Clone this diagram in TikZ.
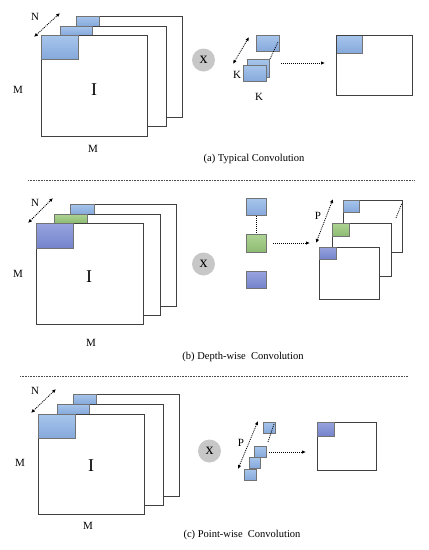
\documentclass[tikz,border=0pt]{standalone}
\usepackage{fontspec}
\setmainfont{Liberation Serif}
\usetikzlibrary{arrows.meta}
\definecolor{lblue}{HTML}{A7C6EC}
\definecolor{lbluedark}{HTML}{86A9DC}
\definecolor{lgreen}{HTML}{AFD494}
\definecolor{lgreendark}{HTML}{8DBB72}
\definecolor{lpurple}{HTML}{98A4DF}
\definecolor{lpurpledark}{HTML}{7483CC}
\tikzset{
    sheet/.style={draw=black!75, fill=white, line width=0.8pt},
    bluepatch/.style={draw=black!55, line width=0.5pt, top color=lblue, bottom color=lbluedark},
    greenpatch/.style={draw=black!55, line width=0.5pt, top color=lgreen, bottom color=lgreendark},
    purplepatch/.style={draw=black!55, line width=0.5pt, top color=lpurple, bottom color=lpurpledark},
    dotline/.style={black, line width=0.8pt, dash pattern=on 1pt off 1pt},
    dotarrow/.style={dotline, -{Latex[length=4pt,width=3.5pt]}},
    dotboth/.style={dotline, {Latex[length=4pt,width=3.5pt]}-{Latex[length=4pt,width=3.5pt]}},
    sep/.style={black!70, line width=0.5pt, dash pattern=on 0.8pt off 0.8pt},
    times/.style={circle, fill=black!22, minimum size=23pt, inner sep=0pt, font=\fontsize{16}{16}\selectfont},
    lab/.style={font=\fontsize{11}{12}\selectfont, inner sep=0pt},
    big/.style={font=\fontsize{18}{18}\selectfont, inner sep=0pt},
    caption/.style={font=\fontsize{10.5}{12}\selectfont, inner sep=0pt}
}
\begin{document}
\begin{tikzpicture}[x=1pt, y=-1pt]
        \useasboundingbox (0,0) rectangle (429,550);

        % (a) input stack
        \draw[sheet] (76,16) rectangle (182,117);
        \draw[bluepatch] (76,16) rectangle (99,26);
        \draw[sheet] (60,26) rectangle (166,126);
        \draw[bluepatch] (60,26) rectangle (92,35);
        \draw[sheet] (41,35) rectangle (147,136);
        \draw[bluepatch] (41,35) rectangle (78,59);
        \draw[dotboth] (34,37) -- (60,13);
        \node[lab] (Na) at (35,17) {N};
        \node[lab] (Ma1) at (18,90) {M};
        \node[lab] (Ma2) at (93,149) {M};
        \node[big] (Ia) at (94,90) {I};
        \node[times] (xa) at (203.5,60) {x};

        % (a) kernel
        \draw[bluepatch] (256,35) rectangle (279,51);
        \draw[bluepatch] (247,59) rectangle (269,77);
        \draw[bluepatch] (243,65) rectangle (266,81);
        \draw[dotline] (270,59) -- (278,42);
        \draw[dotboth] (233,64) -- (249,37);
        \node[lab] (Ka1) at (237,75) {K};
        \node[lab] (Ka2) at (259,97) {K};
        \draw[dotarrow] (281,63) -- (325,63);

        % (a) output
        \draw[sheet] (336,35) rectangle (412,95);
        \draw[bluepatch] (336,35) rectangle (362,53);
        \draw[sheet, fill=none] (336,35) rectangle (412,95);
        \node[caption] (capa) at (254,159) {(a) Typical Convolution};

        \draw[sep] (28,180) -- (415,180);

        % (b) input stack
        \draw[sheet] (70,204) rectangle (176,306);
        \draw[bluepatch] (70,204) rectangle (94,214);
        \draw[sheet] (54,214) rectangle (160,315);
        \draw[greenpatch] (54,214) rectangle (87,223);
        \draw[sheet] (36,223) rectangle (143,324);
        \draw[purplepatch] (36,223) rectangle (73,248);
        \draw[dotboth] (28,223) -- (53,198);
        \node[lab] (Nb) at (35,203) {N};
        \node[lab] (Mb1) at (18,274) {M};
        \node[lab] (Mb2) at (91,343) {M};
        \node[big] (Ib) at (89,277) {I};
        \node[times] (xb) at (203.5,264) {x};

        % (b) kernels
        \draw[bluepatch] (246,198) rectangle (266,215);
        \draw[greenpatch] (246,234) rectangle (266,252);
        \draw[purplepatch] (246,271) rectangle (266,288);
        \draw[dotline] (256,216) -- (256,233);
        \draw[dotarrow] (273,243) -- (310,243);

        % (b) output stack
        \draw[sheet] (343,200) rectangle (402,252);
        \draw[bluepatch] (343,200) rectangle (359,212);
        \draw[dotline] (396,218) -- (402,203);
        \draw[sheet] (332,223) rectangle (391,276);
        \draw[greenpatch] (332,223) rectangle (349,236);
        \draw[sheet] (319,247) rectangle (379,299);
        \draw[purplepatch] (319,247) rectangle (336,259);
        \draw[dotboth] (316,243) -- (333,199);
        \node[lab] (Pb) at (318,216) {P};
        \node[caption] (capb) at (243,357) {(b) Depth-wise\ \ Convolution};

        \draw[sep] (20,376) -- (408,376);

        % (c) input stack
        \draw[sheet] (73,394) rectangle (179,496);
        \draw[bluepatch] (73,394) rectangle (96,404);
        \draw[sheet] (57,404) rectangle (163,505);
        \draw[bluepatch] (57,404) rectangle (89,414);
        \draw[sheet] (38,414) rectangle (144,514);
        \draw[bluepatch] (38,414) rectangle (75,438);
        \draw[dotboth] (31,413) -- (56,389);
        \node[lab] (Nc) at (35,391) {N};
        \node[lab] (Mc1) at (20,463) {M};
        \node[lab] (Mc2) at (88,526) {M};
        \node[big] (Ic) at (91,466) {I};
        \node[times] (xc) at (209.5,451) {x};

        % (c) kernels
        \draw[bluepatch] (263,422) rectangle (275,433);
        \draw[dotline] (268,442) -- (274,424);
        \draw[bluepatch] (254,446) rectangle (266,457);
        \draw[bluepatch] (249,457) rectangle (260,468);
        \draw[bluepatch] (244,469) rectangle (256,480);
        \draw[dotboth] (238,469) -- (258,421);
        \node[lab] (Pc) at (241,443) {P};
        \draw[dotarrow] (269,452) -- (306,452);

        % (c) output
        \draw[sheet] (317,422) rectangle (376,470);
        \draw[purplepatch] (317,422) rectangle (334,436);
        \node[caption] (capc) at (242,535) {(c) Point-wise\ \ Convolution};
\end{tikzpicture}
\end{document}
